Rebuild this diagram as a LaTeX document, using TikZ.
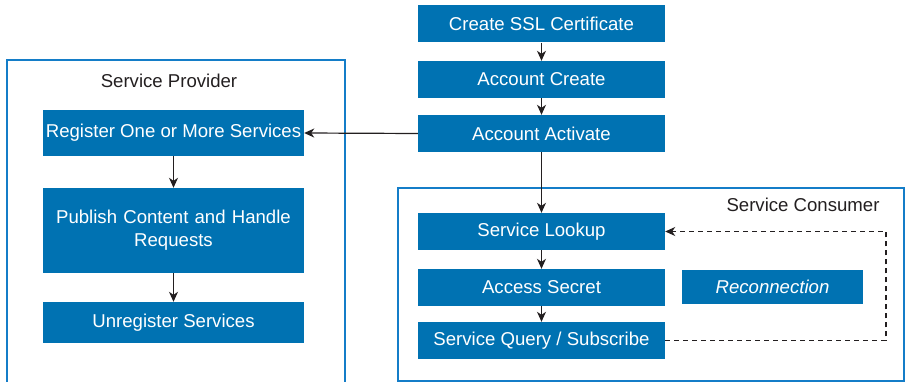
\documentclass[tikz,border=0pt]{standalone}
\usepackage{fontspec}
\setmainfont{Liberation Sans}
\usetikzlibrary{arrows.meta}
\definecolor{boxblue}{RGB}{0,114,178}
\definecolor{frameblue}{RGB}{20,125,200}
\definecolor{ink}{RGB}{35,31,32}
\begin{document}
\begin{tikzpicture}[x=1pt,y=-1pt,
  bluebox/.style={fill=boxblue,draw=none,text=white,inner sep=0pt,font=\fontsize{18.6}{22}\selectfont,align=center},
  frame/.style={draw=frameblue,line width=1.2pt},
  flow/.style={draw=ink,line width=1.2pt,-{Stealth[length=10pt,width=9pt,inset=3pt]}},
  title/.style={text=ink,font=\fontsize{18.6}{22}\selectfont,inner sep=0pt}]
\useasboundingbox (0,0) rectangle (905,382);
% frames
\draw[frame] (7,383) -- (7,60) -- (345,60) -- (345,383);
\draw[frame] (398,188) rectangle (904,381);
\node[title] (sp) at (169,81) {Service Provider};
\node[title] (sc) at (803,205) {Service Consumer};
% top column
\node[bluebox,minimum width=247pt,minimum height=37pt] (ssl) at (541.5,24) {Create SSL Certificate};
\node[bluebox,minimum width=247pt,minimum height=37pt] (acc) at (541.5,79.5) {Account Create};
\node[bluebox,minimum width=247pt,minimum height=37pt] (act) at (541.5,133.5) {Account Activate};
% provider
\node[bluebox,minimum width=261pt,minimum height=46pt] (reg) at (173.5,133) {Register One or More Services};
\node[bluebox,minimum width=261pt,minimum height=85pt,text width=250pt] (pub) at (173.5,230.5) {Publish Content and Handle\\[1pt]Requests};
\node[bluebox,minimum width=261pt,minimum height=41pt] (unr) at (173.5,322.5) {Unregister Services};
% consumer
\node[bluebox,minimum width=247pt,minimum height=37pt] (look) at (541.5,231.5) {Service Lookup};
\node[bluebox,minimum width=247pt,minimum height=37pt] (sec) at (541.5,287.5) {Access Secret};
\node[bluebox,minimum width=247pt,minimum height=37pt] (qry) at (541.5,340.5) {Service Query / Subscribe};
\node[bluebox,minimum width=181pt,minimum height=34pt,font=\fontsize{18.6}{22}\selectfont\itshape] (rec) at (772.5,287) {Reconnection};
% connectors
\draw[flow] (ssl) -- (acc);
\draw[flow] (acc) -- (act);
\draw[flow] (act.west) -- (reg.east);
\draw[flow] (act) -- (look);
\draw[flow] (look) -- (sec);
\draw[flow] (sec) -- (qry);
\draw[flow] (reg) -- (pub);
\draw[flow] (pub) -- (unr);
\coordinate (d1) at (886,340.5);
\coordinate (d2) at (886,231.5);
\draw[flow,dashed,dash pattern=on 5pt off 4pt] (qry.east) -- (d1) -- (d2) -- (look.east);
\end{tikzpicture}
\end{document}
